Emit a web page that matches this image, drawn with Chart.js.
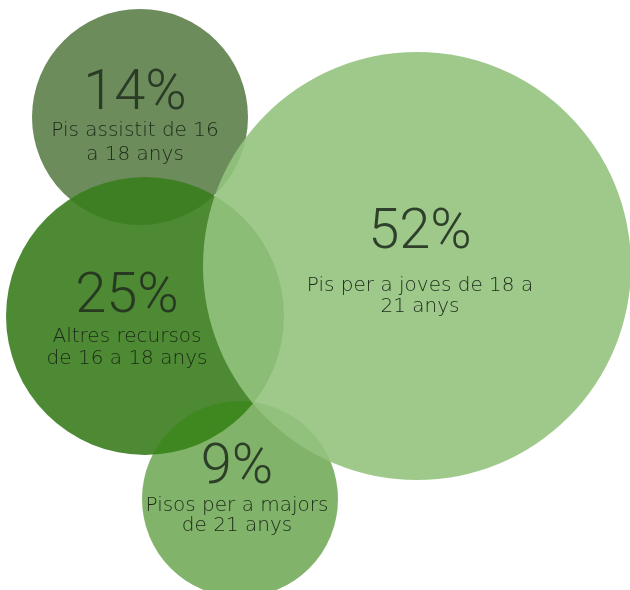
<!DOCTYPE html>
<html>
<head>
<meta charset="utf-8">
<script src="https://cdn.jsdelivr.net/npm/chart.js@4/dist/chart.umd.min.js"></script>
<style>
  html, body { margin: 0; padding: 0; background: #fff; }
  #wrap { width: 630px; height: 590px; }
</style>
</head>
<body>
<div id="wrap"><canvas id="bubbles"></canvas></div>
<script>
// data
var categories = [
  ["Pis assistit de 16", "a 18 anys"],
  ["Altres recursos", "de 16 a 18 anys"],
  ["Pisos per a majors", "de 21 anys"],
  ["Pis per a joves de 18 a", "21 anys"]
];
var percents = [14, 25, 9, 52];
// bubble layout, in axis units (x 0..630, y 0..590 top-down)
var centerX = [140, 145, 240, 417];
var centerY = [117, 316, 499, 266];
var radius = [108, 139, 98, 214];

var fills = [
  "rgb(108,140,92)",
  "rgba(58,125,29,0.9)",
  "rgba(55,135,20,0.63)",
  "rgba(147,195,126,0.9)"
];
// text placement relative to each bubble centre
var textDx = [-5, -18, -3, 3];
var pctBase = [-8, -4, -16, -18];
var lineBase = [19, 26, 12, 25];
var lineGap = [24, 22, 20, 21];

var points = [];
for (var i = 0; i < percents.length; i++) {
  points.push({ x: centerX[i], y: centerY[i], r: radius[i] });
}

var labelPlugin = {
  id: "bubbleLabels",
  afterDatasetsDraw: function (chart) {
    var ctx = chart.ctx;
    chart.data.datasets.forEach(function (ds, di) {
      var meta = chart.getDatasetMeta(di);
      meta.data.forEach(function (el) {
        var k = ds.idx;
        var x = el.x + textDx[k], y = el.y;
        ctx.save();
        ctx.textAlign = "center";
        ctx.textBaseline = "alphabetic";
        ctx.fillStyle = "rgba(36,50,32,0.9)";
        ctx.font = "300 56px Roboto";
        ctx.fillText(percents[k] + "%", x, y + pctBase[k]);
        ctx.fillStyle = "rgb(28,42,24)";
        ctx.font = "200 20px 'DejaVu Sans'";
        ctx.fillText(categories[k][0], x, y + lineBase[k]);
        ctx.fillText(categories[k][1], x, y + lineBase[k] + lineGap[k]);
        ctx.restore();
      });
    });
  }
};

// later in the list = drawn on top
var datasets = percents.map(function (p, i) {
  return {
    idx: i,
    order: percents.length - i,
    label: p + "%",
    data: [points[i]],
    backgroundColor: fills[i],
    borderWidth: 0,
    hoverRadius: 0,
    radius: function (c) {
      var s = c.chart.scales.x;
      return s.getPixelForValue(c.raw.r) - s.getPixelForValue(0);
    },
    clip: false
  };
});

new Chart(document.getElementById("bubbles"), {
  type: "bubble",
  data: { datasets: datasets },
  options: {
    responsive: true,
    maintainAspectRatio: false,
    animation: false,
    layout: { padding: 0, autoPadding: false },
    plugins: { legend: { display: false }, tooltip: { enabled: false } },
    scales: {
      x: { type: "linear", min: 0, max: 630, display: false },
      y: { type: "linear", min: 0, max: 590, reverse: true, display: false }
    }
  },
  plugins: [labelPlugin]
});
</script>
</body>
</html>
